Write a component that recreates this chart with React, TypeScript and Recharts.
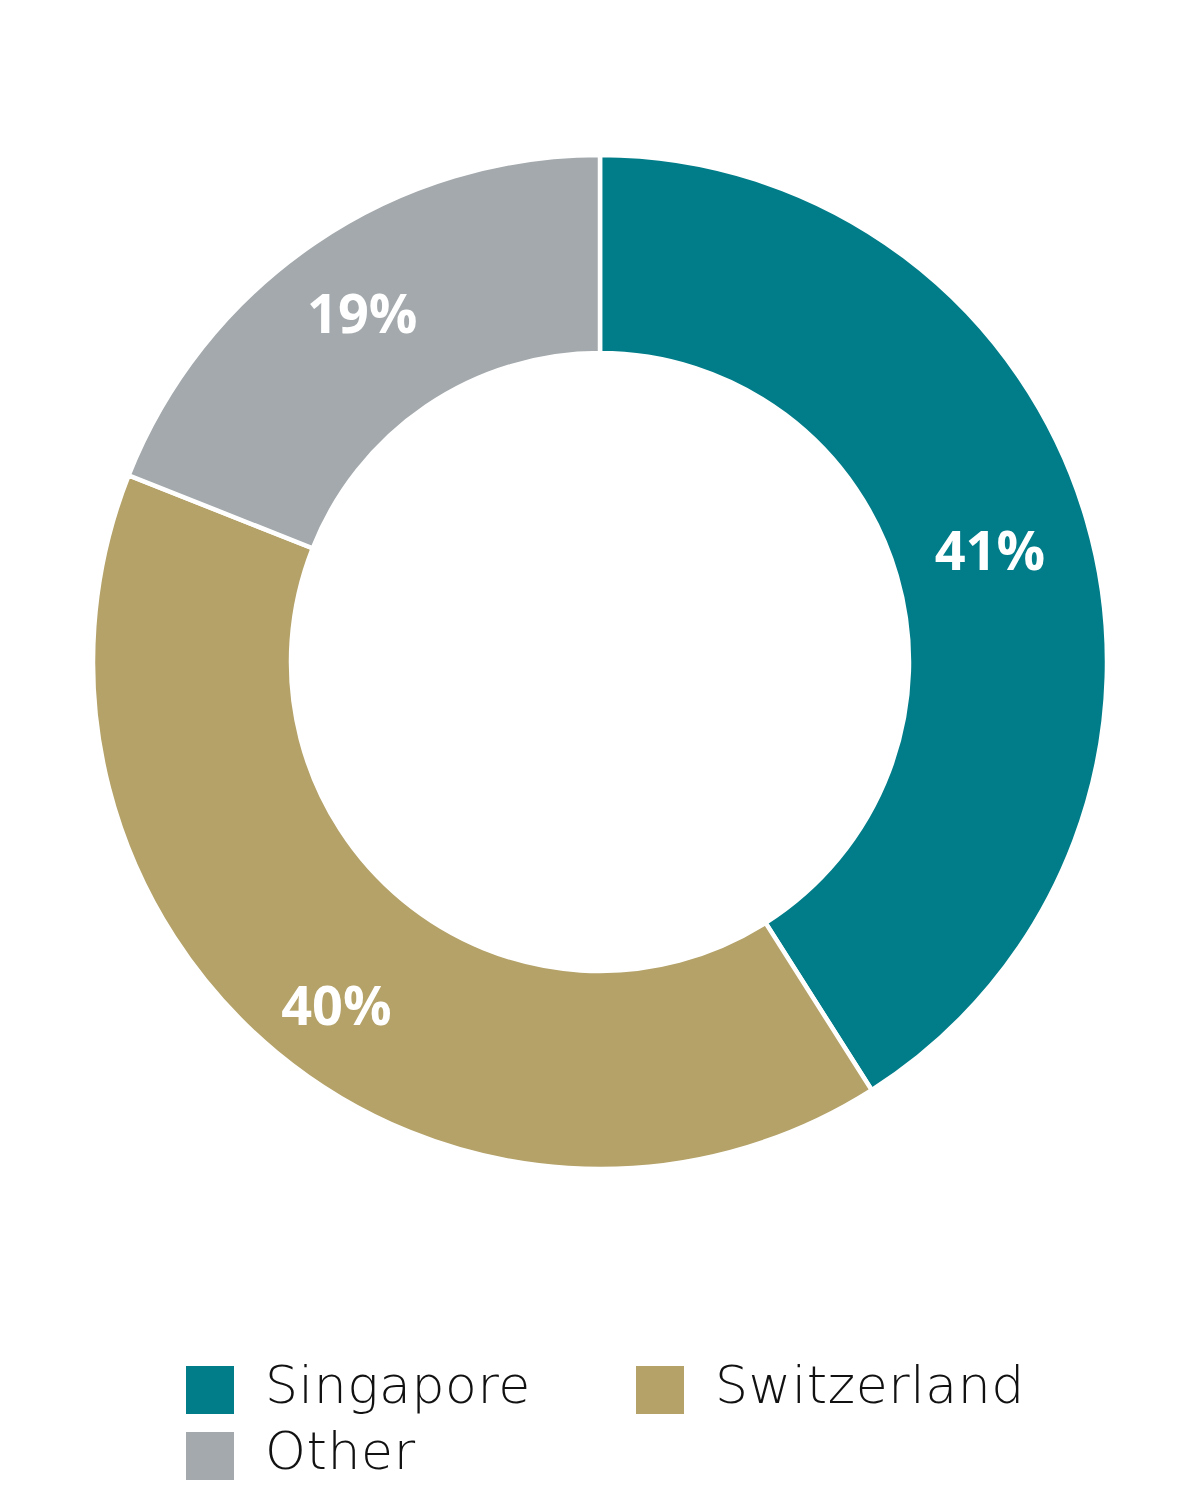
import { PieChart, Pie, Cell, Legend } from 'recharts'

const REGIONS = ['Singapore', 'Switzerland', 'Other']
const SHARES = [41, 40, 19]
const COLORS = ['#007D89', '#B4A269', '#A3A9AC']

const data = REGIONS.map((name, i) => ({ name, value: SHARES[i] }))

const RAD = Math.PI / 180
// label distance from centre, per slice (the source nudges them a little)
const LABEL_R = [406, 432, 423]
const LABEL_NUDGE = [0, 2, 0]

function SliceLabel(props: any) {
  const { cx, cy, midAngle, index } = props
  const r = LABEL_R[index]
  const a = midAngle + LABEL_NUDGE[index]
  const x = cx + r * Math.cos(-a * RAD)
  const y = cy + r * Math.sin(-a * RAD)
  return (
    <text x={x} y={y} fill="#fff" textAnchor="middle" dominantBaseline="central"
      style={{ fontFamily: '"Open Sans", sans-serif', fontWeight: 700, fontSize: 54 }}>
      {SHARES[index]}%
    </text>
  )
}

function LegendBody() {
  return (
    <div style={{ display: 'grid', gridTemplateColumns: '450px 450px', rowGap: 18, fontFamily: '"DejaVu Sans", sans-serif', fontWeight: 200, fontSize: 52, color: '#111' }}>
      {REGIONS.map((name, i) => (
        <div key={name} style={{ display: 'flex', alignItems: 'center', height: 48 }}>
          <span style={{ width: 48, height: 48, background: COLORS[i], display: 'inline-block', marginRight: 31 }} />
          <span style={{ lineHeight: '48px', position: 'relative', top: -5, letterSpacing: 0.6 }}>{name}</span>
        </div>
      ))}
    </div>
  )
}

export default function App() {
  return (
    <div style={{ position: 'absolute', left: 0, top: 0, width: 1200, height: 1500, background: '#fff' }}>
      <PieChart width={1200} height={1500} margin={{ top: 0, right: 0, bottom: 0, left: 0 }}>
        <Pie data={data} dataKey="value" nameKey="name" cx={600} cy={662}
          innerRadius={309} outerRadius={507} startAngle={90} endAngle={-270}
          stroke="#fff" strokeWidth={4.5} label={SliceLabel} labelLine={false}
          isAnimationActive={false}>
          {data.map((_, i) => <Cell key={i} fill={COLORS[i]} />)}
        </Pie>
        <Legend content={LegendBody} wrapperStyle={{ left: 186, top: 1366, width: 900 }} />
      </PieChart>
    </div>
  )
}
